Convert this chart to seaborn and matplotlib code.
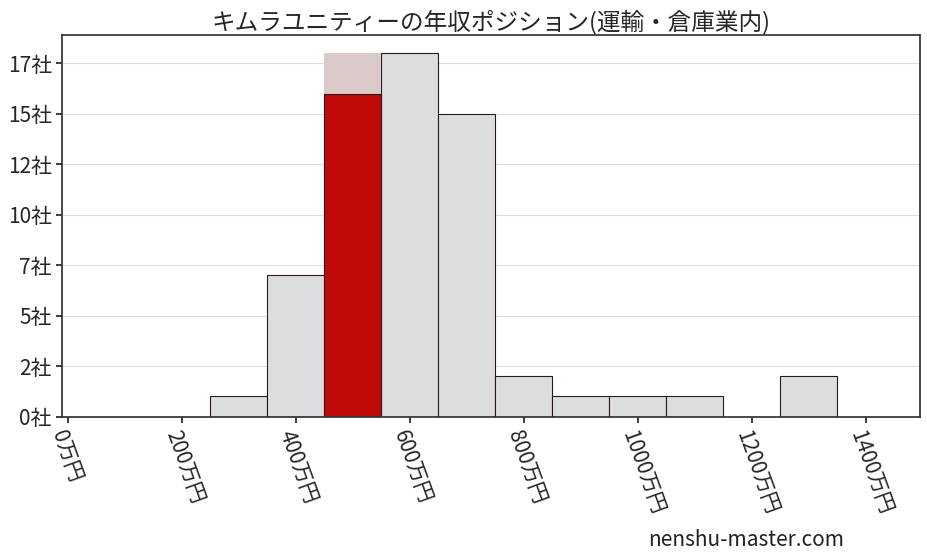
import matplotlib
matplotlib.use("Agg")
import matplotlib.pyplot as plt
import seaborn as sns
import numpy as np
from matplotlib.ticker import FuncFormatter

sns.set_theme(style="white")
plt.rcParams['font.family'] = ['Noto Sans CJK JP', 'DejaVu Sans']

bin_edges = [250, 350, 450, 550, 650, 750, 850, 950, 1050, 1150, 1250, 1350, 1450]
bin_centers = [300, 400, 500, 600, 700, 800, 900, 1000, 1100, 1200, 1300, 1400]
counts = [1, 7, 16, 18, 15, 2, 1, 1, 1, 0, 2, 0]
highlight_center = [500]
highlight_value = [16]
highlight_bg = [18]

fig, ax = plt.subplots(figsize=(9.28, 5.57), dpi=100)
other = [c if x != 500 else 0 for x, c in zip(bin_centers, counts)]
sns.histplot(x=bin_centers, weights=other, bins=bin_edges, color="#dcdddf",
             edgecolor="#2a1a1a", linewidth=0.8, alpha=1, ax=ax)
sns.histplot(x=highlight_center, weights=highlight_bg, bins=[450, 550], color="#dccaca",
             edgecolor="none", alpha=1, ax=ax)
sns.histplot(x=highlight_center, weights=highlight_value, bins=[450, 550], color="#c00a0a",
             edgecolor="#2a1a1a", linewidth=0.8, alpha=1, ax=ax)
# remove zero-height patches edges
for p in ax.patches:
    if p.get_height() == 0:
        p.set_visible(False)

ax.set_xlim(-10, 1495)
ax.set_ylim(0, 18.9)
ax.set_yticks(np.arange(0, 18, 2.5))
ax.yaxis.set_major_formatter(FuncFormatter(lambda v, p: f"{int(v)}社"))
ax.set_xticks(range(0, 1401, 200))
ax.set_xticklabels([f"{v}万円" for v in range(0, 1401, 200)], rotation=-70, ha="left", rotation_mode="anchor")
ax.tick_params(axis='both', labelsize=15, length=4, left=True, bottom=True)
ax.grid(axis='y', color="#dddddd", linewidth=0.8)
ax.set_axisbelow(True)
ax.set_xlabel("")
ax.set_ylabel("")
for s in ax.spines.values():
    s.set_color("#333333")
ax.set_title("キムラユニティーの年収ポジション(運輸・倉庫業内)", fontsize=17, pad=4)
fig.text(0.91, 0.02, "nenshu-master.com", ha="right", fontsize=15, color="#222222")
plt.subplots_adjust(left=0.067, right=0.991, top=0.937, bottom=0.252)
fig.savefig("out.png", dpi=100)
